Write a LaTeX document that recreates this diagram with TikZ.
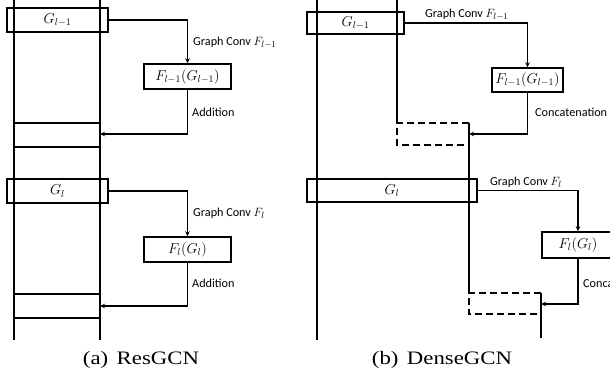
\documentclass[tikz,border=0pt]{standalone}
\usepackage{fontspec}
\usepackage{graphicx}
\setmainfont{Liberation Serif}
\setsansfont{Carlito}
\usetikzlibrary{arrows.meta}
\begin{document}
\begin{tikzpicture}[x=1pt,y=-1pt,
  ln/.style={line width=1.5pt},
  box/.style={draw,line width=1.5pt,inner sep=0pt,font=\fontsize{14.5}{16}\selectfont},
  arr/.style={line width=1.5pt,-{Stealth[length=5pt,width=4.5pt]}},
  dsh/.style={line width=1.5pt,dash pattern=on 7pt off 4pt},
  lbl/.style={anchor=west,inner sep=0pt,font=\sffamily\fontsize{12.2}{14}\selectfont},
  captxt/.style={inner sep=0pt,font=\fontsize{19}{22}\selectfont}]
\useasboundingbox (0,0) rectangle (610,377);
\clip (0,0) rectangle (610,377);
% ---------- (a) ResGCN ----------
\draw[ln] (14,0) -- (14,340);
\draw[ln] (100,0) -- (100,340);
\node[box,minimum width=101pt,minimum height=24pt] (ga) at (57.5,20) {$G_{l-1}$};
\node[box,minimum width=87pt,minimum height=25pt] (fa) at (187.5,76.5) {$F_{l-1}(G_{l-1})$};
\node[draw,line width=1.5pt,minimum width=86pt,minimum height=24pt,inner sep=0pt] (ca) at (57,135) {};
\coordinate (ta) at (100,134);
\draw[arr] (ga.east) -| (fa.north);
\draw[arr] (fa.south) |- (ta);
\node[lbl] (la1) at (193,43) {Graph Conv $F_{l-1}$};
\node[lbl] (la2) at (192,112) {Addition};
\node[box,minimum width=101pt,minimum height=24pt] (gb) at (57.5,191) {$G_{l}$};
\node[box,minimum width=87pt,minimum height=25pt] (fb) at (187.5,249.5) {$F_{l}(G_{l})$};
\node[draw,line width=1.5pt,minimum width=86pt,minimum height=24pt,inner sep=0pt] (cb) at (57,306) {};
\coordinate (tb) at (100,306);
\draw[arr] (gb.east) -| (fb.north);
\draw[arr] (fb.south) |- (tb);
\node[lbl] (lb1) at (193,213) {Graph Conv $F_{l}$};
\node[lbl] (lb2) at (192,283) {Addition};
\node[captxt] (capa) at (141,360) {\scalebox{1.2}[1]{(a)\hspace{7pt}ResGCN}};
% ---------- (b) DenseGCN ----------
\draw[ln] (317,0) -- (317,340);
\coordinate (d1tl) at (397,123);
\coordinate (d1tr) at (469,123);
\coordinate (d1bl) at (397,145);
\coordinate (d1br) at (469,145);
\draw[ln] (397,0) -- (d1tl);
\draw[dsh] (d1tr) -- (d1tl) -- (d1bl) -- (d1br);
\coordinate (d2tl) at (469,293);
\coordinate (d2tr) at (541,293);
\coordinate (d2bl) at (469,314);
\coordinate (d2br) at (541,314);
\draw[ln] (d1tr) -- (d2tl);
\draw[dsh] (d2tr) -- (d2tl) -- (d2bl) -- (d2br);
\draw[ln] (d2tr) -- (541,338);
\node[box,minimum width=97pt,minimum height=22pt] (gc) at (355.5,23) {$G_{l-1}$};
\node[box,minimum width=71pt,minimum height=24pt] (fc) at (527.5,80) {$F_{l-1}(G_{l-1})$};
\coordinate (tc) at (469,134);
\draw[arr] (gc.east) -| (fc.north);
\draw[arr] (fc.south) |- (tc);
\node[lbl] (lc1) at (425,15) {Graph Conv $F_{l-1}$};
\node[lbl] (lc2) at (535,112) {Concatenation};
\node[box,minimum width=170pt,minimum height=23pt] (gd) at (392,190.5) {$G_{l}$};
\node[box,minimum width=72pt,minimum height=26pt] (fd) at (578,245) {$F_{l}(G_{l})$};
\coordinate (td) at (541,304);
\draw[arr] (gd.east) -| (fd.north);
\draw[arr] (fd.south) |- (td);
\node[lbl] (ld1) at (490,182) {Graph Conv $F_{l}$};
\node[lbl] (ld2) at (583,283) {Concatenation};
\node[captxt] (capb) at (442,360) {\scalebox{1.2}[1]{(b)\hspace{7pt}DenseGCN}};
\end{tikzpicture}
\end{document}
